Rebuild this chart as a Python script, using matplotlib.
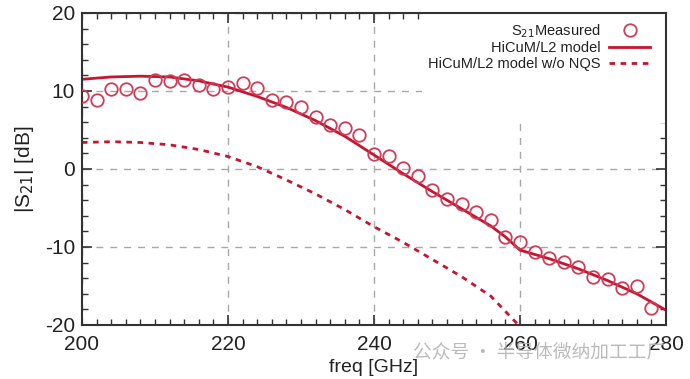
import numpy as np
import matplotlib
matplotlib.use('Agg')
import matplotlib.pyplot as plt
from matplotlib.patches import Rectangle
from matplotlib.ticker import MultipleLocator

plt.rcParams['font.family'] = ['Liberation Sans', 'DejaVu Sans']
plt.rcParams['axes.unicode_minus'] = False

# measured S21
f_meas = [200, 202, 204, 206, 208, 210, 212, 214, 216, 218, 220, 222, 224, 226, 228,
          230, 232, 234, 236, 238, 240, 242, 244, 246, 248, 250, 252, 254, 256, 258,
          260, 262, 264, 266, 268, 270, 272, 274, 276, 278]
s21_meas = [9.4, 8.9, 10.2, 10.3, 9.8, 11.4, 11.3, 11.4, 10.8, 10.3, 10.55, 11.0, 10.4, 8.85, 8.6,
            7.9, 6.7, 5.6, 5.2, 4.4, 1.9, 1.7, 0.1, -0.9, -2.7, -3.8, -4.5, -5.55, -6.6, -8.7,
            -9.4, -10.7, -11.4, -11.9, -12.6, -13.9, -14.1, -15.2, -15.0, -17.8]

# HiCuM/L2 model
f_model = [200, 204, 208, 212, 216, 220, 224, 228, 232, 236, 240, 244, 248, 252, 256,
           258, 260, 264, 268, 272, 276, 280]
s21_model = [11.5, 11.8, 11.9, 11.8, 11.3, 10.5, 9.3, 7.9, 6.2, 4.2, 1.8, -0.6, -2.9, -5.1, -7.3,
             -8.7, -10.4, -11.5, -12.8, -14.3, -16.0, -18.1]

# HiCuM/L2 model w/o NQS
f_nqs = [200, 204, 208, 212, 216, 220, 224, 228, 232, 236, 240, 244, 248, 252, 256, 260]
s21_nqs = [3.4, 3.5, 3.4, 3.1, 2.5, 1.6, 0.3, -1.4, -3.2, -5.2, -7.4, -9.4, -11.6, -13.8, -16.3, -20.2]

red = '#c8142e'

fig = plt.figure(figsize=(6.9, 3.79), dpi=100)
ax = fig.add_axes([0.1188, 0.1425, 0.8464, 0.8232])

ax.set_axisbelow(True)
ax.grid(True, which='major', color='#a8a8a8', linestyle=(0, (5, 5)), linewidth=1.0)
# legend area blanks out the grid
ax.add_patch(Rectangle((0.582, 0.647), 0.418, 0.353, transform=ax.transAxes,
                       facecolor='white', edgecolor='none', zorder=0.8))

ax.plot(f_meas, s21_meas, linestyle='none', marker='o', markersize=9,
        markerfacecolor='none', markeredgecolor='#cf3c5a', markeredgewidth=1.3,
        label='S$_{21}$Measured', zorder=3)
ax.plot(f_model, s21_model, color=red, lw=2.0, label='HiCuM/L2 model', zorder=2)
ax.plot(f_nqs, s21_nqs, color=red, lw=2.0, linestyle=(0, (2, 2)),
        label='HiCuM/L2 model w/o NQS', zorder=2)

ax.set_xlim(200, 280)
ax.set_ylim(-20, 20)
ax.xaxis.set_major_locator(MultipleLocator(20))
ax.xaxis.set_minor_locator(MultipleLocator(2))
ax.yaxis.set_major_locator(MultipleLocator(10))
ax.yaxis.set_minor_locator(MultipleLocator(2))
ax.tick_params(which='both', direction='in', top=True, right=True, colors='#333333',
               labelcolor='#222222', labelsize=15)
ax.tick_params(which='major', length=7, width=1.2)
ax.tick_params(which='minor', length=4, width=1.0)
ax.tick_params(axis='x', pad=7)
ax.tick_params(axis='y', pad=5)
for s in ax.spines.values():
    s.set_color('#333333')
    s.set_linewidth(1.5)

ax.set_xlabel('freq [GHz]', fontsize=14, color='#222222', labelpad=4)
ax.set_ylabel('|S$_{21}$| [dB]', fontsize=15, color='#222222', labelpad=6)

leg = ax.legend(loc='upper right', markerfirst=False, frameon=False, fontsize=10.5,
                handlelength=2.8, handletextpad=0.6, labelspacing=0.12,
                borderaxespad=0.0, bbox_to_anchor=(0.983, 0.99))
for t in leg.get_texts():
    t.set_color('#222222')

# watermark
fig.text(0.598, 0.07, '公众号 · 半导体微纳加工工厂', fontsize=13.5, color='#b4b4b4',
         family=['Noto Sans CJK SC', 'DejaVu Sans'], ha='left', va='center', alpha=0.9)

fig.savefig('out.png', dpi=100)
